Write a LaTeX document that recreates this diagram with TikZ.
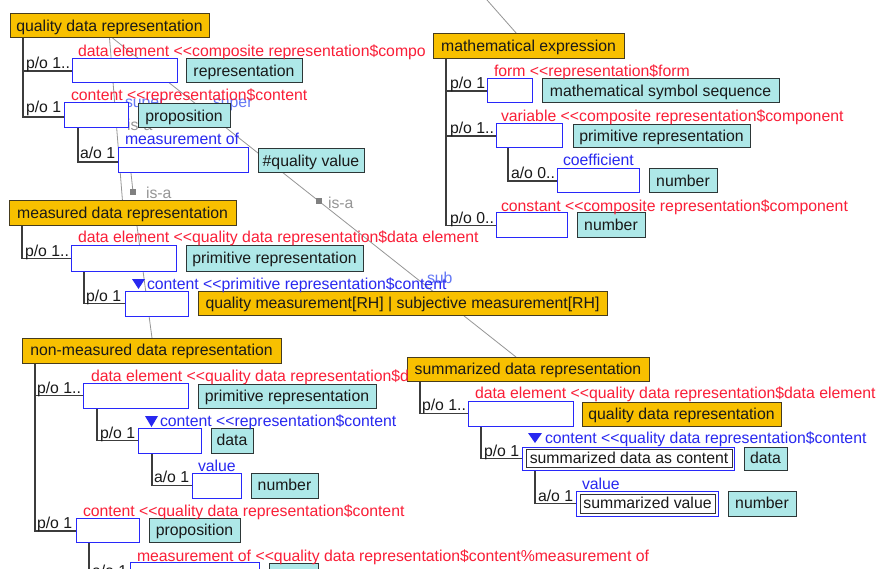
\documentclass[tikz,border=0pt]{standalone}
\usepackage{fontspec}
\setmainfont{Liberation Sans}
\pgfdeclarelayer{bg}
\pgfsetlayers{bg,main}
\definecolor{hdrfill}{RGB}{248,192,0}
\definecolor{hdrline}{RGB}{70,60,30}
\definecolor{typfill}{RGB}{174,232,232}
\definecolor{typline}{RGB}{45,55,55}
\definecolor{slotblue}{RGB}{40,40,250}
\definecolor{redt}{RGB}{250,30,55}
\definecolor{bluet}{RGB}{40,40,240}
\definecolor{lbluet}{RGB}{100,120,245}
\definecolor{treec}{RGB}{60,60,60}
\definecolor{isac}{RGB}{150,150,150}
\definecolor{txt}{RGB}{25,25,25}
\newcommand\ltlt{<\kern0pt<}
\tikzset{
  boxbase/.style={line width=1pt, inner sep=0pt, outer sep=0pt, anchor=north west, text height=12.5pt, text depth=2pt, text=txt},
  hdr/.style={boxbase, draw=hdrline, fill=hdrfill},
  typ/.style={boxbase, draw=typline, fill=typfill},
  slot/.style={boxbase, draw=slotblue, fill=white},
  inbox/.style={boxbase, draw=black!80, fill=white},
  lab/.style={anchor=base west, inner sep=0pt, outer sep=0pt},
  blk/.style={lab, text=txt},
  redlab/.style={lab, text=redt},
  bluelab/.style={lab, text=bluet},
  tree/.style={draw=treec, line width=1.4pt},
  isa/.style={draw=isac, line width=0.8pt},
  marker/.style={fill=isac!85!black, minimum size=6pt, inner sep=0pt}
}
\begin{document}
\begin{tikzpicture}[x=1pt,y=-1pt,font=\fontsize{15.8pt}{18pt}\selectfont]
\useasboundingbox (0,0) rectangle (880,569);
\begin{pgfonlayer}{bg}
\fill[white] (0,0) rectangle (880,569);
\end{pgfonlayer}

% relation labels (behind boxes)
\node[lab, text=lbluet] (sup1) at (125,108) {super};
\node[lab, text=lbluet] (sup2) at (213,108) {super};
\node[lab, text=lbluet] (sub1) at (427,283) {sub};
\node[lab, text=isac] (isa1) at (127,131) {is-a};
\node[lab, text=isac] (isa2) at (146,199) {is-a};
\node[lab, text=isac] (isa3) at (328,209) {is-a};
\node[marker] (mk1) at (133,192) {};
\node[marker] (mk2) at (319,201) {};

% headers
\node[hdr, minimum width=199pt, minimum height=24pt] (qdr) at (10,14) {quality data representation};
\node[hdr, minimum width=227pt, minimum height=25pt] (mdr) at (9,201) {measured data representation};
\node[hdr, minimum width=259pt, minimum height=25pt] (nmdr) at (22,338) {non-measured data representation};
\node[hdr, minimum width=191pt, minimum height=25pt] (mex) at (433,34) {mathematical expression};
\node[hdr, minimum width=242pt, minimum height=24pt] (sdr) at (407,357) {summarized data representation};
\node[hdr, minimum width=409pt, minimum height=24pt] (qm) at (198,291) {quality measurement[RH] | subjective measurement[RH]};
\node[hdr, minimum width=199pt, minimum height=24pt] (qdr2) at (582,402) {quality data representation};

% type boxes
\node[typ, minimum width=116pt, minimum height=24pt] (t1) at (186,59) {representation};
\node[typ, minimum width=92pt, minimum height=24pt] (t2) at (138,104) {proposition};
\node[typ, minimum width=106pt, minimum height=24pt] (t3) at (258,149) {\#quality value};
\node[typ, minimum width=177pt, minimum height=25pt] (t4) at (186,246) {primitive representation};
\node[typ, minimum width=178pt, minimum height=24pt] (t5) at (198,384) {primitive representation};
\node[typ, minimum width=42pt, minimum height=25pt] (t6) at (211,428) {data};
\node[typ, minimum width=67pt, minimum height=25pt] (t7) at (251,473) {number};
\node[typ, minimum width=91pt, minimum height=24pt] (t8) at (149,518) {proposition};
\node[typ, minimum width=49pt, minimum height=24pt] (t9) at (269,563) {};
\node[typ, minimum width=237pt, minimum height=24pt] (t10) at (542,79) {mathematical symbol sequence};
\node[typ, minimum width=177pt, minimum height=23pt] (t11) at (573,125) {primitive representation};
\node[typ, minimum width=68pt, minimum height=24pt] (t12) at (649,169) {number};
\node[typ, minimum width=68pt, minimum height=25pt] (t13) at (577,213) {number};
\node[typ, minimum width=43pt, minimum height=23pt] (t14) at (744,447) {data};
\node[typ, minimum width=68pt, minimum height=25pt] (t15) at (728,491) {number};

% slot boxes
\node[slot, minimum width=105pt, minimum height=24pt] (s1) at (72,59) {};
\node[slot, minimum width=64pt, minimum height=25pt] (s2) at (64,103) {};
\node[slot, minimum width=130pt, minimum height=25pt] (s3) at (118,148) {};
\node[slot, minimum width=105pt, minimum height=25pt] (s4) at (71,246) {};
\node[slot, minimum width=63pt, minimum height=25pt] (s5) at (125,291) {};
\node[slot, minimum width=105pt, minimum height=25pt] (s6) at (83,383) {};
\node[slot, minimum width=63pt, minimum height=25pt] (s7) at (138,428) {};
\node[slot, minimum width=49pt, minimum height=25pt] (s8) at (192,473) {};
\node[slot, minimum width=63pt, minimum height=24pt] (s9) at (76,518) {};
\node[slot, minimum width=129pt, minimum height=25pt] (s10) at (130,562) {};
\node[slot, minimum width=45pt, minimum height=24pt] (s11) at (487,79) {};
\node[slot, minimum width=66pt, minimum height=24pt] (s12) at (496,124) {};
\node[slot, minimum width=82pt, minimum height=24pt] (s13) at (557,169) {};
\node[slot, minimum width=71pt, minimum height=25pt] (s14) at (496,213) {};
\node[slot, minimum width=105pt, minimum height=25pt] (s15) at (468,401) {};
\node[slot, minimum width=212pt, minimum height=23pt] (s16) at (522,447) {};
\node[inbox, minimum width=206pt, minimum height=18pt, text height=11.5pt, text depth=1.5pt] (i16) at (526,449) {summarized data as content};
\node[slot, minimum width=142pt, minimum height=25pt] (s17) at (576,491) {};
\node[inbox, minimum width=135pt, minimum height=19pt, text height=11.5pt, text depth=1.5pt] (i17) at (580,494) {summarized value};

% connectors behind
\begin{pgfonlayer}{bg}
\draw[isa] (qdr.south) -- (mdr.north);
\draw[isa] ([xshift=3pt]qdr.south) -- ([xshift=109pt]sdr.north west);
\draw[isa] ([xshift=128pt]mdr.south west) -- ([xshift=130pt]nmdr.north west);
\coordinate (topin) at (487,0);
\draw[isa] (topin) -- ([xshift=84pt]mex.north west);
\draw[isa] ([xshift=13pt]s3.south west) -- (mk1);
% part-of trees
\draw[tree] ([xshift=13pt]qdr.south west) |- (s1.west);
\draw[tree] ([xshift=13pt]qdr.south west) |- ([yshift=-1.5pt]s2.west);
\draw[tree] ([xshift=14pt]s2.south west) |- ([yshift=-1.5pt]s3.west);
\draw[tree] ([xshift=13pt]mdr.south west) |- (s4.west);
\draw[tree] ([xshift=13pt]s4.south west) |- (s5.west);
\draw[tree] ([xshift=13pt]nmdr.south west) |- (s6.west);
\draw[tree] ([xshift=13pt]nmdr.south west) |- ([yshift=-1pt]s9.west);
\draw[tree] ([xshift=14pt]s6.south west) |- (s7.west);
\draw[tree] ([xshift=14pt]s7.south west) |- (s8.west);
\draw[tree] ([xshift=13pt]s9.south west) |- (s10.west);
\draw[tree] ([xshift=13pt]mex.south west) |- (s11.west);
\draw[tree] ([xshift=13pt]mex.south west) |- (s12.west);
\draw[tree] ([xshift=13pt]mex.south west) |- (s14.west);
\draw[tree] ([xshift=12pt]s12.south west) |- (s13.west);
\draw[tree] ([xshift=13pt]sdr.south west) |- (s15.west);
\draw[tree] ([xshift=13pt]s15.south west) |- (s16.west);
\draw[tree] ([xshift=13pt]s16.south west) |- (s17.west);
\end{pgfonlayer}

% small black labels
\node[blk] (b1) at (26,69) {p/o 1..};
\node[blk] (b2) at (26,113) {p/o 1};
\node[blk] (b3) at (80,159) {a/o 1};
\node[blk] (b4) at (25,256) {p/o 1..};
\node[blk] (b5) at (86,301) {p/o 1};
\node[blk] (b6) at (37,393) {p/o 1..};
\node[blk] (b7) at (100,438) {p/o 1};
\node[blk] (b8) at (154,482) {a/o 1};
\node[blk] (b9) at (37,528) {p/o 1};
\node[blk] (b10) at (92,576) {a/o 1};
\node[blk] (b11) at (450,89) {p/o 1};
\node[blk] (b12) at (450,134) {p/o 1..};
\node[blk] (b13) at (511,179) {a/o 0..};
\node[blk] (b14) at (450,224) {p/o 0..};
\node[blk] (b15) at (422,410) {p/o 1..};
\node[blk] (b16) at (484,456) {p/o 1};
\node[blk] (b17) at (538,501) {a/o 1};

% red role labels
\node[redlab] (r1) at (78,57) {data element \ltlt composite representation\$compo};
\node[redlab] (r2) at (71,101) {content \ltlt representation\$content};
\node[redlab] (r3) at (78,243) {data element \ltlt quality data representation\$data element};
\node[redlab] (r4) at (91,381) {data element \ltlt quality data representation\$d};
\node[redlab] (r5) at (83,516) {content \ltlt quality data representation\$content};
\node[redlab] (r6) at (137,561) {measurement of \ltlt quality data representation\$content\%measurement of};
\node[redlab] (r7) at (494,77) {form \ltlt representation\$form};
\node[redlab] (r8) at (501,122) {variable \ltlt composite representation\$component};
\node[redlab] (r9) at (501,212) {constant \ltlt composite representation\$component};
\node[redlab] (r10) at (475,398) {data element \ltlt quality data representation\$data element};

% blue role labels
\node[bluelab] (u1) at (125,145) {measurement of};
\node[bluelab] (u2) at (147,289) {content \ltlt primitive representation\$content};
\node[bluelab] (u3) at (160,426) {content \ltlt representation\$content};
\node[bluelab] (u4) at (198,471) {value};
\node[bluelab] (u5) at (563,166) {coefficient};
\node[bluelab] (u6) at (545,443) {content \ltlt quality data representation\$content};
\node[bluelab] (u7) at (582,489) {value};
\fill[bluet] (132,279) -- (145,279) -- (138.5,289) -- cycle;
\fill[bluet] (145,416) -- (158,416) -- (151.5,427) -- cycle;
\fill[bluet] (528,433) -- (542,433) -- (535,443) -- cycle;
\end{tikzpicture}
\end{document}
